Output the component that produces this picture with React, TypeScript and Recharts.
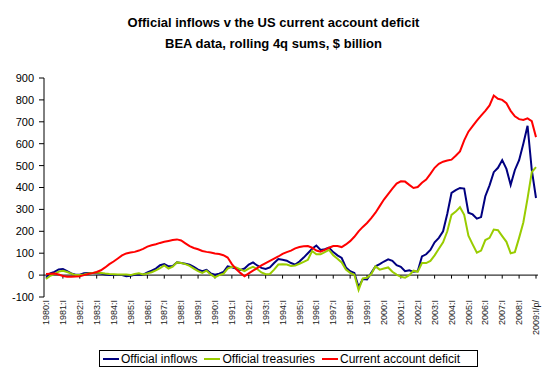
import React from "react";
import { LineChart, Line, XAxis, YAxis, ReferenceLine } from "recharts";

// rolling 4q sums, $ billion, 1980:I .. 2009:I (117 quarters)
const years = [
  1980, 1981, 1982, 1983, 1984, 1985, 1986, 1987, 1988, 1989, 1990, 1991, 1992, 1993, 1994,
  1995, 1996, 1997, 1998, 1999, 2000, 2001, 2002, 2003, 2004, 2005, 2006, 2007, 2008, 2009,
];
const quarterNames = ["I", "II", "III", "IV"];

const officialInflows = [
  -12, 8, 15, 26, 28, 18, 8, 2, 2, 8, 10, 10, 8, 7, 3, 0,
  0, 0, 0, -5, -3, 2, 3, 2, 12, 20, 30, 45, 50, 40, 42, 58,
  55, 52, 47, 38, 25, 18, 24, 8, 2, 6, 14, 40, 36, 30, 24, 30,
  48, 58, 44, 33, 28, 35, 55, 73, 70, 66, 55, 48, 62, 80, 100, 120,
  135, 115, 118, 125, 105, 90, 78, 35, 18, 10, -55, -18, -20, 10, 40, 50,
  62, 72, 65, 45, 38, 18, 22, 15, 18, 85, 95, 115, 150, 170, 200, 280,
  375, 388, 398, 395, 285, 277, 258, 265, 360, 410, 470, 490, 525, 485, 412, 480,
  525, 600, 682, 480, 352,
];

const officialTreasuries = [
  -18, -3, 5, 16, 20, 14, 7, 0, 0, 3, 7, 10, 12, 10, 7, 5,
  4, 3, 3, 3, 0, 5, 8, 3, 8, 13, 22, 32, 44, 30, 38, 58,
  55, 50, 42, 30, 18, 10, 20, 3, -10, 0, 6, 30, 38, 35, 26, 18,
  30, 38, 28, 12, 4, 5, 25, 48, 49, 48, 42, 44, 52, 60, 70, 110,
  95, 95, 105, 115, 90, 75, 58, 25, 10, 2, -68, -15, -12, 5, 40, 25,
  30, 35, 15, 2, -8, -12, 0, 20, 15, 55, 55, 65, 90, 120, 150, 200,
  275, 290, 310, 275, 180, 140, 102, 112, 160, 170, 208, 205, 178, 152, 100, 105,
  170, 240, 350, 470, 493,
];

const currentAccountDeficit = [
  5, 6, 7, 3, -4, -7, -7, -6, -5, 0, 5, 9, 14, 22, 35, 50,
  62, 76, 90, 99, 103, 106, 112, 120, 130, 136, 141, 147, 152, 156, 160, 163,
  158, 145, 132, 124, 118, 110, 106, 103, 99, 96, 91, 80, 50, 28, 10, -5,
  8, 20, 32, 44, 55, 65, 75, 85, 97, 105, 112, 122, 128, 132, 133, 125,
  112, 107, 115, 125, 133, 133, 128, 140, 155, 175, 200, 220, 238, 260, 285, 315,
  345, 370, 395, 418, 428, 427, 412, 398, 402, 422, 436, 462, 490, 508, 518, 523,
  527, 545, 565, 615, 655, 680, 705, 728, 750, 775, 820, 805, 800, 785, 750, 725,
  712, 708, 716, 703, 630,
];

const yTicks = [-100, 0, 100, 200, 300, 400, 500, 600, 700, 800, 900];

const quarters = officialInflows.map((_, i) => {
  const label = `${years[Math.floor(i / 4)]}:${quarterNames[i % 4]}`;
  return i === officialInflows.length - 1 ? label + "/p/" : label;
});
const yearTicks = quarters.filter((_, i) => i % 4 === 0);

const data = quarters.map((q, i) => ({
  q,
  inflows: officialInflows[i],
  treasuries: officialTreasuries[i],
  deficit: currentAccountDeficit[i],
}));

const FONT = '"Liberation Sans", Arial, sans-serif';

const XTick = (props: any) => {
  const { x, y, payload } = props;
  return (
    <text
      x={x}
      y={y}
      transform={`rotate(-90 ${x} ${y})`}
      textAnchor="end"
      dy="0.35em"
      fontSize={9}
      fontFamily={FONT}
      fill="#222"
    >
      {payload.value}
    </text>
  );
};

const legendItems = [
  { name: "Official inflows", color: "#000080" },
  { name: "Official treasuries", color: "#99CC00" },
  { name: "Current account deficit", color: "#FF0000" },
];

export default function App() {
  return (
    <div
      style={{
        position: "absolute",
        left: 0,
        top: 0,
        width: 547,
        height: 374,
        background: "#fff",
        fontFamily: FONT,
      }}
    >
      <div style={{ position: "absolute", left: 0, top: 15, width: 547, textAlign: "center", fontSize: 13, fontWeight: "bold" }}>
        Official inflows v the US current account deficit
      </div>
      <div style={{ position: "absolute", left: 0, top: 36, width: 547, textAlign: "center", fontSize: 13, fontWeight: "bold" }}>
        BEA data, rolling 4q sums, $ billion
      </div>

      <div style={{ position: "absolute", left: 0, top: 0 }}>
        <LineChart width={547} height={374} data={data} margin={{ top: 78, right: 9, left: 10, bottom: 27 }}>
          <XAxis
            dataKey="q"
            interval={3}
            height={50}
            axisLine={false}
            tickLine={false}
            tickSize={0}
            tickMargin={3}
            padding={{ left: 2, right: 2 }}
            tick={<XTick />}
          />
          <YAxis
            domain={[-100, 900]}
            ticks={yTicks}
            width={34}
            stroke="#000"
            tickSize={5}
            tickMargin={5}
            tick={{ fontSize: 11, fill: "#000", fontFamily: FONT }}
          />
          <ReferenceLine y={0} stroke="#000" />
          {yearTicks.map((t) => (
            <ReferenceLine
              key={t}
              segment={[
                { x: t, y: 0 },
                { x: t, y: -16 },
              ]}
              stroke="#000"
            />
          ))}
          <Line type="linear" dataKey="inflows" stroke="#000080" strokeWidth={2} dot={false} isAnimationActive={false} />
          <Line type="linear" dataKey="treasuries" stroke="#99CC00" strokeWidth={2} dot={false} isAnimationActive={false} />
          <Line type="linear" dataKey="deficit" stroke="#FF0000" strokeWidth={2} dot={false} isAnimationActive={false} />
        </LineChart>
      </div>

      <div
        style={{
          position: "absolute",
          left: 99,
          top: 350,
          width: 379,
          height: 17,
          boxSizing: "border-box",
          border: "1px solid #000",
          display: "flex",
          alignItems: "center",
          paddingLeft: 3,
          fontSize: 12,
          whiteSpace: "nowrap",
        }}
      >
        {legendItems.map((it) => (
          <div key={it.name} style={{ display: "flex", alignItems: "center", marginRight: 7 }}>
            <span style={{ display: "inline-block", width: 16, height: 2, background: it.color, marginRight: 2 }} />
            <span>{it.name}</span>
          </div>
        ))}
      </div>
    </div>
  );
}
